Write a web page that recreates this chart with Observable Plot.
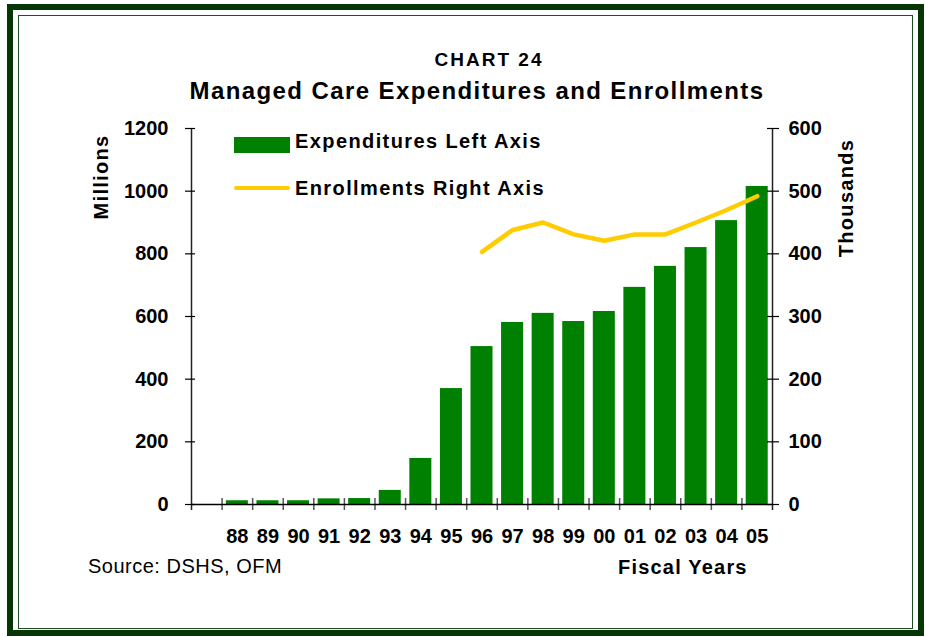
<!DOCTYPE html>
<html>
<head>
<meta charset="utf-8">
<script src="https://cdn.jsdelivr.net/npm/d3@7"></script>
<script src="https://cdn.jsdelivr.net/npm/@observablehq/plot@0.6"></script>
<style>
  body { margin: 0; background: #fff; }
  #wrap { position: relative; width: 925px; height: 637px; overflow: hidden; background: #fff;
          font-family: "Liberation Sans", Arial, sans-serif; color: #000; }
  .abs { position: absolute; white-space: nowrap; line-height: 1; }
  #outer { position: absolute; left: 7px; top: 4px; width: 917px; height: 632px; box-sizing: border-box;
           border: 6px solid #063606; }
  #inner { position: absolute; left: 18px; top: 15px; width: 895px; height: 614px; box-sizing: border-box;
           border: 1px solid #1f4f1f; }
  #chart svg { position: absolute; left: 0; top: 0; }
  .bold { font-weight: bold; }
  .rot { transform: rotate(-90deg); transform-origin: 50% 50%; text-align: center; }
</style>
</head>
<body>
<div id="wrap">
  <div id="outer"></div>
  <div id="inner"></div>
  <div id="chart"></div>
  <div class="abs bold" style="left:189px; top:50px; width:600px; text-align:center; font-size:19px; letter-spacing:2px;">CHART 24</div>
  <div class="abs bold" style="left:177px; top:79px; width:600px; text-align:center; font-size:24px; letter-spacing:1.4px;">Managed Care Expenditures and Enrollments</div>
  <div class="abs bold rot" style="left:2px; top:166px; width:200px; height:22px; font-size:20px; letter-spacing:1.3px;">Millions</div>
  <div class="abs bold rot" style="left:747px; top:187px; width:200px; height:22px; font-size:20px; letter-spacing:1.3px;">Thousands</div>
  <div class="abs" style="left:234px; top:137px; width:56px; height:16px; background:#008000;"></div>
  <div class="abs" style="left:234px; top:186px; width:56px; height:4px; background:#FFCC00; border-radius:2px;"></div>
  <div class="abs bold" style="left:295px; top:131px; font-size:20px; letter-spacing:1.4px;">Expenditures Left Axis</div>
  <div class="abs bold" style="left:295px; top:178px; font-size:20px; letter-spacing:1.4px;">Enrollments Right Axis</div>
  <div class="abs" style="left:88px; top:556px; font-size:20px; letter-spacing:0.5px;">Source: DSHS, OFM</div>
  <div class="abs bold" style="left:618px; top:557px; font-size:20px; letter-spacing:1.2px;">Fiscal Years</div>
</div>
<script>
// ---- data ----
const years = ["88","89","90","91","92","93","94","95","96","97","98","99","00","01","02","03","04","05"];
const expenditures = [12, 12, 12, 18, 19, 45, 147, 370, 504, 581, 610, 584, 616, 693, 760, 820, 906, 1015]; // millions
const enrollmentYears = ["96","97","98","99","00","01","02","03","04","05"];
const enrollments = [403, 438, 450, 431, 421, 431, 431, 450, 470, 492]; // thousands
const leftTicks = [0, 200, 400, 600, 800, 1000, 1200];
const rightTicks = [0, 100, 200, 300, 400, 500, 600];

// ---- derived tables ----
const expData = years.map((year, i) => ({year, value: expenditures[i]}));
const enrollData = enrollmentYears.map((year, i) => ({year, value: enrollments[i]}));
const leftMax = leftTicks[leftTicks.length - 1];
const rightMax = rightTicks[rightTicks.length - 1];
const ratio = leftMax / rightMax;
const xDomain = ["", ...years];

const W = 925, H = 637, mL = 191, mR = 153, mT = 128, mB = 133;
const step = (W - mL - mR) / xDomain.length;

const chart = Plot.plot({
  width: W, height: H,
  marginLeft: mL, marginRight: mR, marginTop: mT, marginBottom: mB,
  style: {background: "transparent", color: "#000", fontFamily: "'Liberation Sans', Arial, sans-serif", overflow: "visible"},
  x: {type: "band", domain: xDomain, paddingInner: 0.28, paddingOuter: 0.14, round: false, label: null},
  y: {domain: [0, leftMax], label: null},
  marks: [
    Plot.barY(expData, {x: "year", y: "value", fill: "#008000"}),
    Plot.ruleX(years, {x: d => d, dx: -step / 2, y1: () => 0, y2: () => 0, insetTop: 6, insetBottom: 6, stroke: "#555", strokeWidth: 1.5}),
    Plot.ruleY([0], {stroke: "#000", strokeWidth: 1.5}),
    Plot.ruleX([xDomain[0]], {x: d => d, dx: -step / 2, y1: () => 0, y2: () => leftMax, insetTop: 6, stroke: "#222", strokeWidth: 1.5}),
    Plot.ruleX([years[years.length - 1]], {x: d => d, dx: step / 2, y1: () => 0, y2: () => leftMax, insetTop: 6, stroke: "#222", strokeWidth: 1.5}),
    Plot.lineY(enrollData, {x: "year", y: d => d.value * ratio, stroke: "#FFCC00", strokeWidth: 4.5, strokeLinejoin: "round", strokeLinecap: "round"}),
    Plot.axisX(years, {tickSize: 0, tickPadding: 24, fontSize: 20, fontWeight: "bold", label: null}),
    Plot.axisY(leftTicks, {anchor: "left", tickSize: 10, dx: 4, tickPadding: 17, tickFormat: v => String(v), fontSize: 20, fontWeight: "bold", strokeWidth: 1.2, label: null}),
    Plot.axisY(rightTicks.map(v => v * ratio), {anchor: "right", tickSize: 12, dx: -6, tickPadding: 10, tickFormat: v => String(v / ratio), fontSize: 20, fontWeight: "bold", strokeWidth: 1.2, label: null})
  ]
});
document.getElementById("chart").appendChild(chart);
</script>
</body>
</html>
